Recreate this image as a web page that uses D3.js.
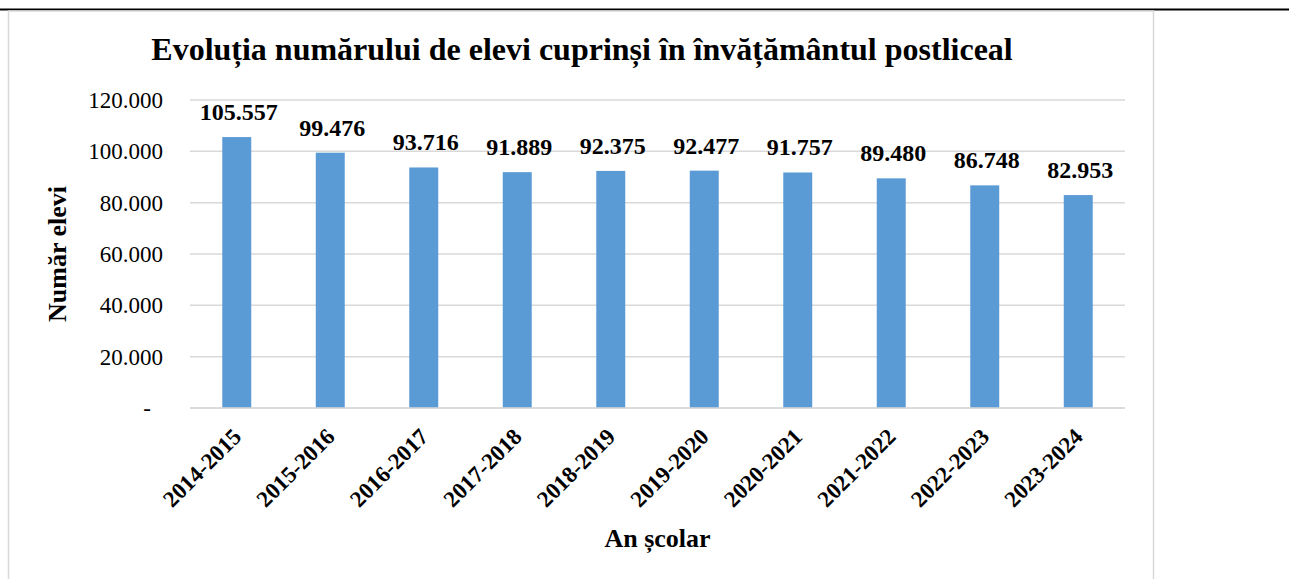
<!DOCTYPE html>
<html>
<head>
<meta charset="utf-8">
<script src="https://cdn.jsdelivr.net/npm/d3@7"></script>
<style>
    body { margin: 0; background: #fff; }
    text { font-family: "Liberation Serif", "Times New Roman", serif; fill: #000; }
</style>
</head>
<body>
<script>
// chart data
var years = ["2014-2015", "2015-2016", "2016-2017", "2017-2018", "2018-2019",
    "2019-2020", "2020-2021", "2021-2022", "2022-2023", "2023-2024"];
var students = [105557, 99476, 93716, 91889, 92375, 92477, 91757, 89480, 86748, 82953];
var yTicks = [0, 20000, 40000, 60000, 80000, 100000, 120000];

var chartTitle = "Evoluția numărului de elevi cuprinși în învățământul postliceal";
var yTitle = "Număr elevi";
var xTitle = "An școlar";

var W = 1289, H = 579;
var margin = {top: 100, right: 164, bottom: 171, left: 190},
    width = W - margin.left - margin.right,
    height = H - margin.top - margin.bottom;

// romanian number format: 105.557
var fmt = d3.formatLocale({decimal: ",", thousands: ".", grouping: [3], currency: ["", " lei"]}).format(",d");

var svg = d3.select("body").append("svg")
    .attr("width", W)
    .attr("height", H);

// line over the page and chart frame
svg.append("line")
    .attr("x1", 0).attr("x2", W)
    .attr("y1", 9.5).attr("y2", 9.5)
    .attr("stroke", "#000")
    .attr("stroke-width", 2);

svg.append("rect")
    .attr("x", 8.5).attr("y", 11)
    .attr("width", 1145).attr("height", H)
    .attr("fill", "none")
    .attr("stroke", "#d9d9d9")
    .attr("stroke-width", 1.5);

var g = svg.append("g")
    .attr("transform", "translate(" + margin.left + "," + margin.top + ")");

var x = d3.scaleBand().domain(years).range([0, width]).paddingInner(0.69).paddingOuter(0.345);
var y = d3.scaleLinear().domain([0, 120000]).range([height, 0]);

// gridlines
g.append("g")
    .selectAll("line")
    .data(yTicks)
    .join("line")
    .attr("x1", 0).attr("x2", width)
    .attr("y1", d => y(d)).attr("y2", d => y(d))
    .attr("stroke", "#d9d9d9")
    .attr("stroke-width", 1.5);

// y axis labels
var yAxis = d3.axisLeft(y).tickValues(yTicks).tickSize(0).tickPadding(27)
    .tickFormat(d => d === 0 ? "-" : fmt(d));
var ya = g.append("g").call(yAxis);
ya.select(".domain").remove();
ya.selectAll("text")
    .attr("font-size", "23px")
    .attr("font-family", "Liberation Serif")
    .attr("fill", "#000")
    .attr("x", d => d === 0 ? -39 : -27);

// bars
g.selectAll(".bar")
    .data(students)
    .join("rect")
    .attr("class", "bar")
    .attr("x", (d, i) => x(years[i]))
    .attr("width", x.bandwidth())
    .attr("y", d => y(d))
    .attr("height", d => height - y(d))
    .attr("fill", "#5b9bd5");

// value labels
g.selectAll(".lbl")
    .data(students)
    .join("text")
    .attr("class", "lbl")
    .attr("x", (d, i) => x(years[i]) + x.bandwidth() / 2 + 2)
    .attr("y", d => y(d) - 17)
    .attr("text-anchor", "middle")
    .attr("font-size", "24px")
    .attr("font-weight", "bold")
    .text(d => fmt(d));

// x axis
var xAxis = d3.axisBottom(x).tickSize(0).tickPadding(0);
var xa = g.append("g")
    .attr("transform", "translate(0," + height + ")")
    .call(xAxis);
xa.select(".domain").remove();
xa.selectAll("text")
    .attr("font-size", "23px")
    .attr("font-weight", "bold")
    .attr("font-family", "Liberation Serif")
    .attr("fill", "#000")
    .attr("text-anchor", "end")
    .attr("dy", 0)
    .attr("y", 0)
    .attr("transform", "translate(6,30) rotate(-45)");

g.append("line")
    .attr("x1", 0).attr("x2", width)
    .attr("y1", height).attr("y2", height)
    .attr("stroke", "#d9d9d9")
    .attr("stroke-width", 1.5);

// titles
svg.append("text")
    .attr("x", 582)
    .attr("y", 60)
    .attr("text-anchor", "middle")
    .attr("font-size", "32px")
    .attr("font-weight", "bold")
    .text(chartTitle);

svg.append("text")
    .attr("transform", "translate(66," + (margin.top + y(60000)) + ") rotate(-90)")
    .attr("text-anchor", "middle")
    .attr("font-size", "26px")
    .attr("font-weight", "bold")
    .text(yTitle);

svg.append("text")
    .attr("x", margin.left + width / 2)
    .attr("y", 547)
    .attr("text-anchor", "middle")
    .attr("font-size", "26px")
    .attr("font-weight", "bold")
    .text(xTitle);
</script>
</body>
</html>
